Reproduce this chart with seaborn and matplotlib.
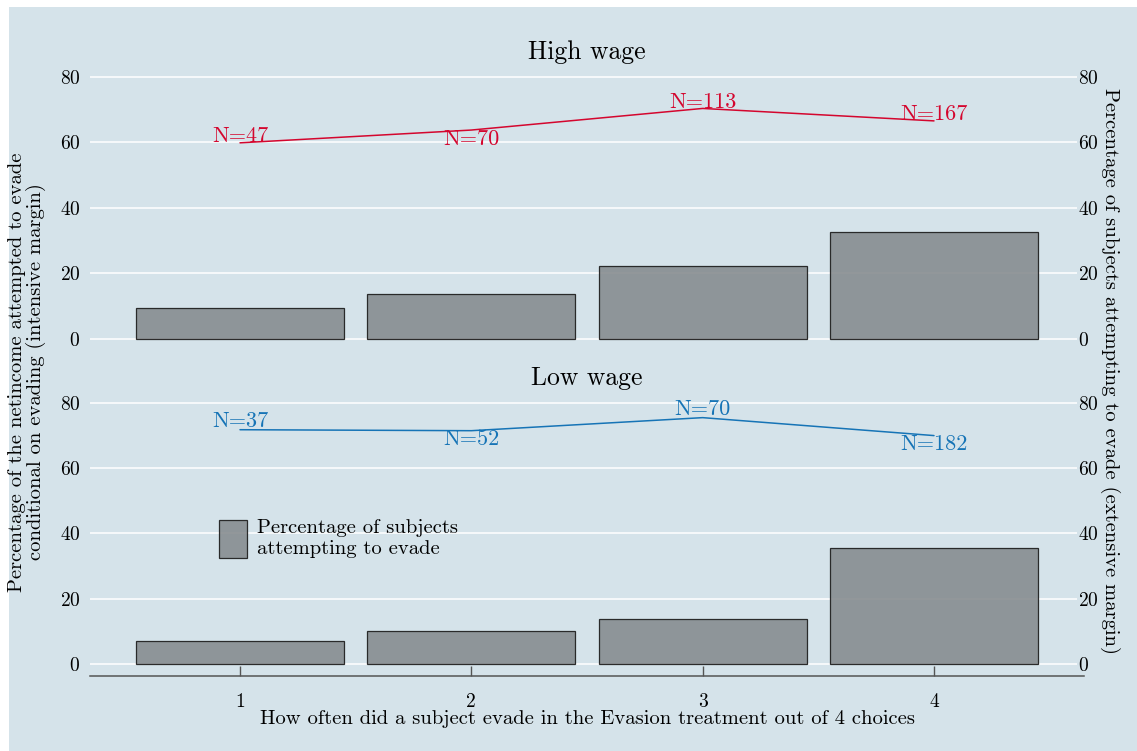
import matplotlib
matplotlib.use("Agg")
import matplotlib.pyplot as plt
import seaborn as sns
import pandas as pd
from matplotlib.patches import Rectangle, Patch

# ---- data -------------------------------------------------------------
times_evaded = [1, 2, 3, 4]
y_ticks = [0, 20, 40, 60, 80]

# High wage treatment
high_share_evading = [9.4, 13.8, 22.2, 32.8]       # extensive margin (bars)
high_netincome_evaded = [59.9, 63.8, 70.4, 66.6]   # intensive margin (line)
high_n = [47, 70, 113, 167]

# Low wage treatment
low_share_evading = [7.1, 10.1, 13.7, 35.7]
low_netincome_evaded = [71.8, 71.5, 75.5, 70.0]
low_n = [37, 52, 70, 182]

# ---- style ------------------------------------------------------------
W, H = 1137, 751
BG = "#d5e3ea"
BAR = "#878d90"
EDGE = "#1a1a1a"
RED = "#d4062e"
BLUE = "#1674b6"
AXIS = "#555555"
LABEL_FS = 14.8

sns.set_theme(style="white")
plt.rcParams["font.family"] = ["cmr10", "DejaVu Serif"]
plt.rcParams["axes.formatter.use_mathtext"] = True
for key in ("text.color", "axes.labelcolor", "xtick.color", "ytick.color",
            "axes.titlecolor"):
    plt.rcParams[key] = "black"

fig = plt.figure(figsize=(W / 100, H / 100), dpi=100, facecolor="white")
fig.patches.append(Rectangle((9 / W, 0), 1, 1 - 7 / H, transform=fig.transFigure,
                             facecolor=BG, edgecolor="none", zorder=-1))

XLIM = (1 - 150 / 231.33, 4 + 143 / 231.33)
YLIM = (-3.67, 83.97)


def panel(rect, share, netinc, ns, color, label_dy, title, title_pad, show_x):
    ax = fig.add_axes(rect)
    ax.set_facecolor("none")
    ax2 = ax.twinx()

    df = pd.DataFrame({"times": times_evaded, "share": share,
                       "netinc": netinc, "n": ns})

    sns.lineplot(data=df, x="times", y="netinc", color=color, linewidth=1.1, ax=ax)
    sns.barplot(data=df, x="times", y="share", native_scale=True, width=0.9,
                color=BAR, saturation=1, alpha=0.9, edgecolor=EDGE,
                linewidth=0.9, ax=ax2)

    for x, y, n, dy in zip(df["times"], df["netinc"], df["n"], label_dy):
        ax.annotate(f"N={n}", (x, y), xytext=(0, dy), textcoords="offset points",
                    ha="center", va="center", color=color, fontsize=16)

    for a in (ax, ax2):
        a.set_xlim(*XLIM)
        a.set_ylim(*YLIM)
        a.set_yticks(y_ticks)
        a.set_xlabel("")
        a.set_ylabel("")
        for s in a.spines.values():
            s.set_visible(False)

    ax.yaxis.grid(True, color="white", linewidth=1.1)
    ax.xaxis.grid(False)
    ax2.grid(False)
    ax.set_axisbelow(True)

    ax.tick_params(axis="y", left=False, length=0, pad=7, labelsize=14)
    ax2.tick_params(axis="y", right=False, length=0, pad=1, labelsize=14)

    if show_x:
        ax.set_xticks(times_evaded)
        ax.set_xticklabels([str(t) for t in times_evaded])
        sp = ax.spines["bottom"]
        sp.set_visible(True)
        sp.set_color(AXIS)
        sp.set_linewidth(1.1)
        sp.set_bounds(XLIM[0], 4 + 150 / 231.33)
        ax.tick_params(axis="x", bottom=True, direction="in", length=7, width=1,
                       color=AXIS, pad=12, labelsize=14)
        ax2.tick_params(axis="x", bottom=False, labelbottom=False)
    else:
        ax.tick_params(axis="x", bottom=False, labelbottom=False)
        ax2.tick_params(axis="x", bottom=False, labelbottom=False)

    ax.set_title(title, fontsize=18.5, pad=title_pad)
    ax.title.set_x((587 - 90) / 987)
    return ax, ax2


left, width = 90 / W, 987 / W
top_rect = [left, 1 - 351 / H, width, 287 / H]
bot_rect = [left, 1 - 676 / H, width, 286 / H]

panel(top_rect, high_share_evading, high_netincome_evaded, high_n, RED,
      [5, -6.5, 4.5, 4.5], "High wage", 2, False)
axb, axb2 = panel(bot_rect, low_share_evading, low_netincome_evaded, low_n, BLUE,
                  [6, -6.5, 6, -6], "Low wage", 3, True)

leg = axb2.legend(handles=[Patch(facecolor=BAR, alpha=0.9, edgecolor=EDGE, linewidth=0.9)],
                  labels=["Percentage of subjects\nattempting to evade"],
                  loc="upper left", bbox_to_anchor=(219 / W, 1 - 519 / H),
                  bbox_transform=fig.transFigure, frameon=False, fontsize=LABEL_FS,
                  handlelength=1.36, handleheight=2.47, handletextpad=0.49,
                  borderpad=0, borderaxespad=0)
for t in leg.get_texts():
    t.set_linespacing(1.25)

fig.text(27 / W, 1 - 372 / H,
         "Percentage of the netincome attempted to evade\nconditional on evading (intensive margin)",
         rotation=90, ha="center", va="center", fontsize=LABEL_FS, linespacing=1.0,
         multialignment="center")
fig.text(1110 / W, 1 - 371 / H,
         "Percentage of subjects attempting to evade (extensive margin)",
         rotation=270, ha="center", va="center", fontsize=LABEL_FS)
fig.text(587 / W, 1 - 724 / H,
         "How often did a subject evade in the Evasion treatment out of 4 choices",
         ha="center", va="baseline", fontsize=LABEL_FS)

fig.savefig("out.png", dpi=100, facecolor=fig.get_facecolor())
